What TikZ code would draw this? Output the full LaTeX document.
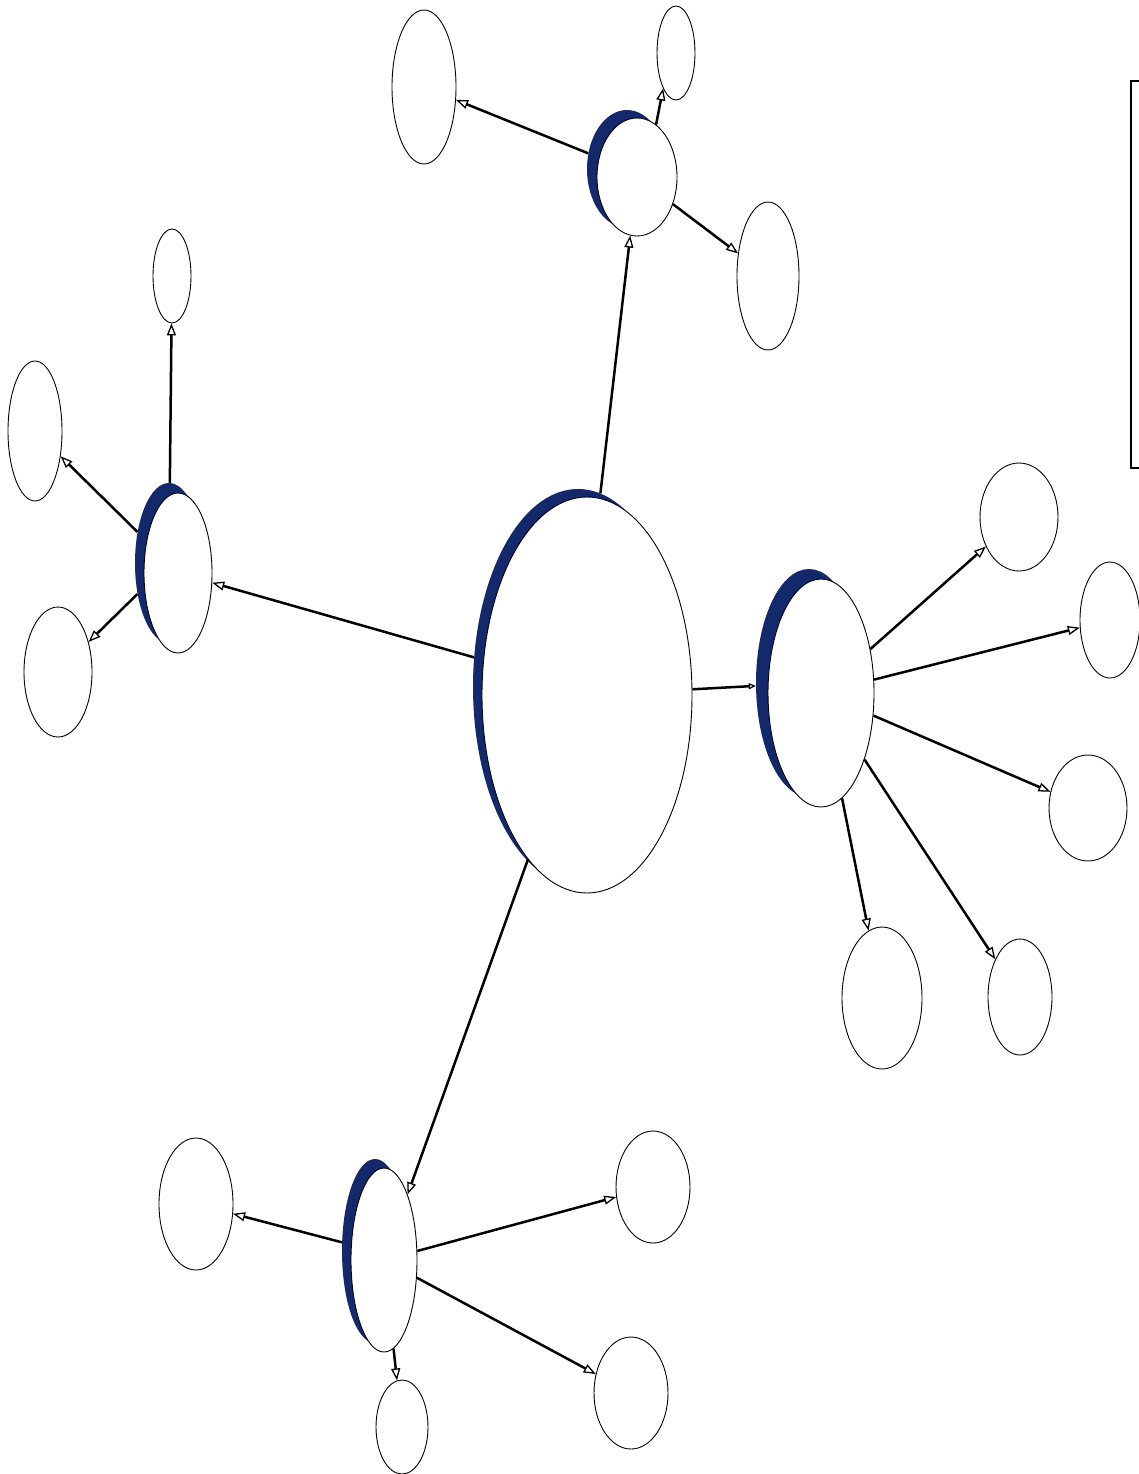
\documentclass[tikz,border=0pt]{standalone}
\usetikzlibrary{shapes.geometric,arrows.meta}
\definecolor{hubblue}{HTML}{13296B}

\begin{document}
\begin{tikzpicture}[x=1pt,y=-1pt,
  leaf/.style={ellipse,draw=black,line width=0.9pt,fill=white,inner sep=0pt},
  hubnode/.style={ellipse,draw=black,line width=0.9pt,fill=white,inner sep=0pt},
  hubshade/.style={ellipse,fill=hubblue,draw=none,inner sep=0pt},
  link/.style={line width=2.5pt,-{Triangle[open,length=12pt,width=9pt,line width=1.3pt]}}]
\useasboundingbox (0,0) rectangle (1138,1474);
\draw[line width=1.2pt] (1150,81) -- (1131,81) -- (1131,468) -- (1150,468);
\node[hubshade,minimum width=210,minimum height=396] (c-s) at (578,687) {};
\node[hubnode,minimum width=210,minimum height=396] (c) at (587,695) {};
\node[hubshade,minimum width=80,minimum height=118] (t-s) at (627,169) {};
\node[hubnode,minimum width=80,minimum height=118] (t) at (637,177) {};
\node[hubshade,minimum width=68,minimum height=160] (l-s) at (169,563) {};
\node[hubnode,minimum width=68,minimum height=160] (l) at (178,573) {};
\node[hubshade,minimum width=106,minimum height=228] (r-s) at (809,683) {};
\node[hubnode,minimum width=106,minimum height=228] (r) at (821,693) {};
\node[hubshade,minimum width=66,minimum height=184] (b-s) at (375,1251) {};
\node[hubnode,minimum width=66,minimum height=184] (b) at (384,1260) {};
\node[leaf,minimum width=64,minimum height=154] (t1) at (424,87) {};
\node[leaf,minimum width=38,minimum height=94] (t2) at (676,53) {};
\node[leaf,minimum width=62,minimum height=148] (t3) at (768,276) {};
\node[leaf,minimum width=38,minimum height=94] (l1) at (172,276) {};
\node[leaf,minimum width=54,minimum height=140] (l2) at (35,431) {};
\node[leaf,minimum width=68,minimum height=130] (l3) at (58,672) {};
\node[leaf,minimum width=78,minimum height=108] (r1) at (1019,517) {};
\node[leaf,minimum width=60,minimum height=116] (r2) at (1110,620) {};
\node[leaf,minimum width=78,minimum height=106] (r3) at (1088,808) {};
\node[leaf,minimum width=80,minimum height=142] (r4) at (882,998) {};
\node[leaf,minimum width=64,minimum height=116] (r5) at (1020,997) {};
\node[leaf,minimum width=74,minimum height=132] (b1) at (196,1204) {};
\node[leaf,minimum width=74,minimum height=112] (b2) at (653,1187) {};
\node[leaf,minimum width=74,minimum height=112] (b3) at (631,1393) {};
\node[leaf,minimum width=52,minimum height=94] (b4) at (402,1427) {};
\draw[link] (c-s) -- (t);
\draw[link] (c-s) -- (l);
\draw[line width=2.5pt,-{Triangle[open,length=7pt,width=6pt,line width=1.2pt]}] (c) -- (r-s);
\draw[link] (c) -- (b);
\draw[link] (t-s) -- (t1);
\draw[link] (t.70) -- (t2.250);
\draw[link] (t) -- (t3);
\draw[link] (l-s) -- (l1);
\draw[link] (l-s) -- (l2);
\draw[link] (l-s) -- (l3);
\draw[link] (r) -- (r1);
\draw[link] (r) -- (r2);
\draw[link] (r) -- (r3);
\draw[link] (r) -- (r4);
\draw[link] (r) -- (r5);
\draw[link] (b-s) -- (b1);
\draw[link] (b) -- (b2);
\draw[link] (b) -- (b3);
\draw[link] (b) -- (b4);
\end{tikzpicture}
\end{document}
